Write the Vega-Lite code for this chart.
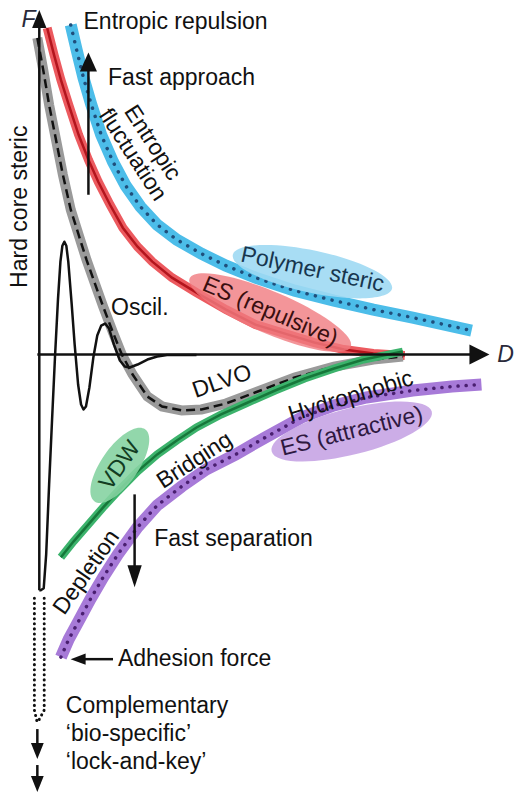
{
 "$schema": "https://vega.github.io/schema/vega-lite/v6.json",
 "width": 514, "height": 792,
 "autosize": {"type": "fit", "contains": "padding"},
 "padding": 0,
 "background": "white",
 "config": {"view": {"stroke": null}, "text": {"font": "Liberation Sans", "fontSize": 23, "color": "#111"}},
 "datasets": {
  "curves": [
   {"s":"blue","i":0,"x":3.2,"y":33.0},{"s":"blue","i":1,"x":3.8,"y":30.5},{"s":"blue","i":2,"x":4.5,"y":27.7},{"s":"blue","i":3,"x":5.3,"y":25.0},{"s":"blue","i":4,"x":6.3,"y":22.0},{"s":"blue","i":5,"x":7.5,"y":19.3},{"s":"blue","i":6,"x":8.8,"y":16.9},{"s":"blue","i":7,"x":10.3,"y":14.8},{"s":"blue","i":8,"x":12.0,"y":13.0},{"s":"blue","i":9,"x":14.0,"y":11.5},{"s":"blue","i":10,"x":16.5,"y":10.1},{"s":"blue","i":11,"x":19.0,"y":8.9},{"s":"blue","i":12,"x":22.0,"y":7.7},{"s":"blue","i":13,"x":26.0,"y":6.4},{"s":"blue","i":14,"x":30.0,"y":5.4},{"s":"blue","i":15,"x":34.0,"y":4.5},{"s":"blue","i":16,"x":38.0,"y":3.7},{"s":"blue","i":17,"x":44.0,"y":2.4},
   {"s":"red","i":0,"x":0.8,"y":32.7},{"s":"red","i":1,"x":1.5,"y":30.0},{"s":"red","i":2,"x":2.2,"y":27.5},{"s":"red","i":3,"x":3.0,"y":25.0},{"s":"red","i":4,"x":4.0,"y":22.0},{"s":"red","i":5,"x":5.0,"y":19.5},{"s":"red","i":6,"x":6.0,"y":17.3},{"s":"red","i":7,"x":7.2,"y":15.0},{"s":"red","i":8,"x":8.5,"y":12.7},{"s":"red","i":9,"x":10.0,"y":10.8},{"s":"red","i":10,"x":11.5,"y":9.3},{"s":"red","i":11,"x":13.5,"y":7.7},{"s":"red","i":12,"x":16.0,"y":6.2},{"s":"red","i":13,"x":19.0,"y":4.5},{"s":"red","i":14,"x":22.0,"y":3.0},{"s":"red","i":15,"x":25.0,"y":2.1},{"s":"red","i":16,"x":28.0,"y":1.2},{"s":"red","i":17,"x":31.0,"y":0.5},{"s":"red","i":18,"x":34.0,"y":0.1},{"s":"red","i":19,"x":37.2,"y":-0.1},
   {"s":"gray","i":0,"x":-0.2,"y":31.7},{"s":"gray","i":1,"x":0.4,"y":28.5},{"s":"gray","i":2,"x":1.0,"y":25.0},{"s":"gray","i":3,"x":1.7,"y":21.5},{"s":"gray","i":4,"x":2.4,"y":18.0},{"s":"gray","i":5,"x":3.2,"y":14.5},{"s":"gray","i":6,"x":4.0,"y":12.0},{"s":"gray","i":7,"x":4.8,"y":9.5},{"s":"gray","i":8,"x":5.7,"y":7.0},{"s":"gray","i":9,"x":6.5,"y":4.8},{"s":"gray","i":10,"x":7.5,"y":2.2},{"s":"gray","i":11,"x":8.4,"y":0.0},{"s":"gray","i":12,"x":9.5,"y":-2.0},{"s":"gray","i":13,"x":11.0,"y":-4.2},{"s":"gray","i":14,"x":12.5,"y":-5.2},{"s":"gray","i":15,"x":14.5,"y":-5.6},{"s":"gray","i":16,"x":16.5,"y":-5.5},{"s":"gray","i":17,"x":19.0,"y":-4.9},{"s":"gray","i":18,"x":21.7,"y":-3.9},{"s":"gray","i":19,"x":26.0,"y":-2.3},{"s":"gray","i":20,"x":30.0,"y":-1.2},{"s":"gray","i":21,"x":34.0,"y":-0.5},{"s":"gray","i":22,"x":37.0,"y":-0.2},
   {"s":"green","i":0,"x":2.2,"y":-20.3},{"s":"green","i":1,"x":3.5,"y":-18.7},{"s":"green","i":2,"x":5.0,"y":-17.0},{"s":"green","i":3,"x":6.5,"y":-15.3},{"s":"green","i":4,"x":8.0,"y":-13.7},{"s":"green","i":5,"x":10.0,"y":-11.7},{"s":"green","i":6,"x":12.0,"y":-10.0},{"s":"green","i":7,"x":14.0,"y":-8.6},{"s":"green","i":8,"x":16.0,"y":-7.3},{"s":"green","i":9,"x":18.5,"y":-6.0},{"s":"green","i":10,"x":21.0,"y":-4.9},{"s":"green","i":11,"x":24.0,"y":-3.6},{"s":"green","i":12,"x":27.0,"y":-2.4},{"s":"green","i":13,"x":30.0,"y":-1.4},{"s":"green","i":14,"x":33.0,"y":-0.5},{"s":"green","i":15,"x":37.0,"y":0.3},
   {"s":"purple","i":0,"x":2.2,"y":-30.3},{"s":"purple","i":1,"x":3.0,"y":-28.5},{"s":"purple","i":2,"x":4.0,"y":-26.7},{"s":"purple","i":3,"x":5.2,"y":-24.5},{"s":"purple","i":4,"x":6.5,"y":-22.3},{"s":"purple","i":5,"x":8.0,"y":-20.0},{"s":"purple","i":6,"x":10.0,"y":-17.3},{"s":"purple","i":7,"x":12.0,"y":-15.1},{"s":"purple","i":8,"x":14.5,"y":-13.2},{"s":"purple","i":9,"x":17.0,"y":-11.5},{"s":"purple","i":10,"x":20.0,"y":-10.0},{"s":"purple","i":11,"x":23.0,"y":-8.3},{"s":"purple","i":12,"x":26.7,"y":-6.3},{"s":"purple","i":13,"x":30.0,"y":-5.1},{"s":"purple","i":14,"x":33.3,"y":-4.3},{"s":"purple","i":15,"x":38.0,"y":-3.6},{"s":"purple","i":16,"x":42.0,"y":-3.2},{"s":"purple","i":17,"x":45.0,"y":-3.0}
  ],
  "black": [
   {"s":"axF","i":0,"x":0,"y":-23.6},{"s":"axF","i":1,"x":0,"y":32.7},
   {"s":"axD","i":0,"x":-0.2,"y":0},{"s":"axD","i":1,"x":44.0,"y":0},
   {"s":"arrUp","i":0,"x":5.0,"y":16.0},{"s":"arrUp","i":1,"x":5.0,"y":29.0},
   {"s":"arrDown","i":0,"x":9.7,"y":-14.0},{"s":"arrDown","i":1,"x":9.7,"y":-21.3},
   {"s":"arrLeft","i":0,"x":7.5,"y":-30.5},{"s":"arrLeft","i":1,"x":4.5,"y":-30.5},
   {"s":"b1","i":0,"x":-0.2,"y":-37.5},{"s":"b1","i":1,"x":-0.2,"y":-39.1},
   {"s":"b2","i":0,"x":-0.2,"y":-41.1},{"s":"b2","i":1,"x":-0.2,"y":-42.3},
   {"s":"osc","i":0,"x":0,"y":-23.6},{"s":"osc","i":1,"x":0.15,"y":-23.6},{"s":"osc","i":2,"x":0.45,"y":-23.4},{"s":"osc","i":3,"x":0.7,"y":-20.0},{"s":"osc","i":4,"x":1.0,"y":-13.0},{"s":"osc","i":5,"x":1.3,"y":-6.5},{"s":"osc","i":6,"x":1.6,"y":-0.2},{"s":"osc","i":7,"x":1.9,"y":5.5},{"s":"osc","i":8,"x":2.15,"y":9.3},{"s":"osc","i":9,"x":2.35,"y":10.9},{"s":"osc","i":10,"x":2.55,"y":11.3},{"s":"osc","i":11,"x":2.75,"y":10.9},{"s":"osc","i":12,"x":2.95,"y":9.3},{"s":"osc","i":13,"x":3.3,"y":5.0},{"s":"osc","i":14,"x":3.6,"y":1.0},{"s":"osc","i":15,"x":3.95,"y":-3.0},{"s":"osc","i":16,"x":4.25,"y":-5.0},{"s":"osc","i":17,"x":4.5,"y":-5.5},{"s":"osc","i":18,"x":4.75,"y":-5.2},{"s":"osc","i":19,"x":5.1,"y":-3.3},{"s":"osc","i":20,"x":5.5,"y":-0.3},{"s":"osc","i":21,"x":5.9,"y":1.9},{"s":"osc","i":22,"x":6.3,"y":2.9},{"s":"osc","i":23,"x":6.7,"y":3.1},{"s":"osc","i":24,"x":7.1,"y":2.6},{"s":"osc","i":25,"x":7.6,"y":1.0},{"s":"osc","i":26,"x":8.2,"y":-0.6},{"s":"osc","i":27,"x":8.7,"y":-1.2},{"s":"osc","i":28,"x":9.2,"y":-1.3},{"s":"osc","i":29,"x":10.0,"y":-1.0},{"s":"osc","i":30,"x":11.0,"y":-0.5},{"s":"osc","i":31,"x":12.0,"y":-0.2},{"s":"osc","i":32,"x":13.0,"y":-0.05},{"s":"osc","i":33,"x":16.0,"y":-0.05}
  ],
  "dotted": [
   {"s":"L","i":0,"x":-0.5,"y":-24.4},{"s":"L","i":1,"x":-0.5,"y":-35.6},{"s":"L","i":2,"x":-0.2,"y":-36.9},
   {"s":"R","i":0,"x":0.5,"y":-24.4},{"s":"R","i":1,"x":0.5,"y":-35.6},{"s":"R","i":2,"x":-0.2,"y":-36.9}
  ],
  "labels0": [
   {"t":"Entropic repulsion","x":4.5,"y":33.3},
   {"t":"Fast approach","x":7.0,"y":27.7},
   {"t":"Oscil.","x":7.3,"y":4.7},
   {"t":"Fast separation","x":11.7,"y":-18.5},
   {"t":"Adhesion force","x":8.0,"y":-30.5},
   {"t":"Complementary","x":2.7,"y":-35.2},
   {"t":"‘bio-specific’","x":2.7,"y":-38.0},
   {"t":"‘lock-and-key’","x":2.7,"y":-40.8}
  ]
 },
 "encoding": {
  "x": {"field": "x", "type": "quantitative", "scale": {"domain": [-4, 47.4], "nice": false, "zero": false}, "axis": null},
  "y": {"field": "y", "type": "quantitative", "scale": {"domain": [-43.7, 35.5], "nice": false, "zero": false}, "axis": null}
 },
 "layer": [
  {"data": {"name": "curves"}, "transform": [{"filter": "datum.s == 'blue'"}], "mark": {"type": "line", "stroke": "#4cbde9", "strokeWidth": 12, "strokeCap": "butt"}, "encoding": {"order": {"field": "i"}}},
  {"data": {"name": "curves"}, "transform": [{"filter": "datum.s == 'blue'"}], "mark": {"type": "line", "stroke": "#1f4f7c", "strokeWidth": 3.5, "strokeCap": "round", "strokeDash": [0.1, 8.5]}, "encoding": {"order": {"field": "i"}}},
  {"data": {"name": "curves"}, "transform": [{"filter": "datum.s == 'red'"}], "mark": {"type": "line", "stroke": "#ec5a5f", "strokeWidth": 9, "strokeCap": "butt"}, "encoding": {"order": {"field": "i"}}},
  {"data": {"name": "curves"}, "transform": [{"filter": "datum.s == 'red'"}], "mark": {"type": "line", "stroke": "#b3151d", "strokeWidth": 2.5}, "encoding": {"order": {"field": "i"}}},
  {"data": {"name": "curves"}, "transform": [{"filter": "datum.s == 'gray'"}], "mark": {"type": "line", "stroke": "#9a9a9a", "strokeWidth": 10, "strokeCap": "butt"}, "encoding": {"order": {"field": "i"}}},
  {"data": {"name": "curves"}, "transform": [{"filter": "datum.s == 'gray'"}], "mark": {"type": "line", "stroke": "#111", "strokeWidth": 2.5, "strokeDash": [9, 5]}, "encoding": {"order": {"field": "i"}}},
  {"data": {"name": "curves"}, "transform": [{"filter": "datum.s == 'green'"}], "mark": {"type": "line", "stroke": "#3cb36c", "strokeWidth": 8, "strokeCap": "butt"}, "encoding": {"order": {"field": "i"}}},
  {"data": {"name": "curves"}, "transform": [{"filter": "datum.s == 'green'"}], "mark": {"type": "line", "stroke": "#16773a", "strokeWidth": 2.5}, "encoding": {"order": {"field": "i"}}},
  {"data": {"name": "curves"}, "transform": [{"filter": "datum.s == 'purple'"}], "mark": {"type": "line", "stroke": "#a77ad8", "strokeWidth": 12, "strokeCap": "butt"}, "encoding": {"order": {"field": "i"}}},
  {"data": {"name": "curves"}, "transform": [{"filter": "datum.s == 'purple'"}], "mark": {"type": "line", "stroke": "#4a1f70", "strokeWidth": 3.5, "strokeCap": "round", "strokeDash": [0.1, 8]}, "encoding": {"order": {"field": "i"}}},
  {"data": {"name": "black"}, "mark": {"type": "line", "stroke": "#111", "strokeWidth": 2.5, "strokeJoin": "round"}, "encoding": {"order": {"field": "i"}, "detail": {"field": "s"}}},
  {"data": {"name": "dotted"}, "mark": {"type": "line", "stroke": "#111", "strokeWidth": 3, "strokeCap": "round", "strokeDash": [0.1, 5]}, "encoding": {"order": {"field": "i"}, "detail": {"field": "s"}}},
  {"data": {"values": [{"x": 0, "y": 33.6}]}, "mark": {"type": "point", "shape": "M 0 -1 L 0.8 1 L -0.8 1 Z", "size": 324, "filled": true, "color": "#111", "opacity": 1}},
  {"data": {"values": [{"x": 44.8, "y": 0}]}, "mark": {"type": "point", "shape": "M 0 -1 L 1 1 L -1 1 Z", "size": 400, "angle": 90, "filled": true, "color": "#111", "opacity": 1}},
  {"data": {"values": [{"x": 5.0, "y": 29.3}]}, "mark": {"type": "point", "shape": "M 0 -1 L 0.9 1 L -0.9 1 Z", "size": 361, "filled": true, "color": "#111", "opacity": 1}},
  {"data": {"values": [{"x": 9.7, "y": -22.2}]}, "mark": {"type": "point", "shape": "M 0 -1 L 0.65 1 L -0.65 1 Z", "size": 484, "angle": 180, "filled": true, "color": "#111", "opacity": 1}},
  {"data": {"values": [{"x": 3.95, "y": -30.5}]}, "mark": {"type": "point", "shape": "M 0 -1 L 0.75 1 L -0.75 1 Z", "size": 225, "angle": 270, "filled": true, "color": "#111", "opacity": 1}},
  {"data": {"values": [{"x": -0.2, "y": -39.7}]}, "mark": {"type": "point", "shape": "M 0 -1 L 0.8 1 L -0.8 1 Z", "size": 256, "angle": 180, "filled": true, "color": "#111", "opacity": 1}},
  {"data": {"values": [{"x": -0.2, "y": -43.0}]}, "mark": {"type": "point", "shape": "M 0 -1 L 0.8 1 L -0.8 1 Z", "size": 256, "angle": 180, "filled": true, "color": "#111", "opacity": 1}},
  {"data": {"values": [{"x": 27.8, "y": 8.3}]}, "mark": {"type": "point", "shape": "M -1 0 A 1 0.26 0 1 1 1 0 A 1 0.26 0 1 1 -1 0 Z", "size": 26500, "angle": 12, "filled": true, "color": "#9fd9f3", "opacity": 0.9}},
  {"data": {"values": [{"x": 23.5, "y": 4.2}]}, "mark": {"type": "point", "shape": "M -1 0 A 1 0.24 0 1 1 1 0 A 1 0.24 0 1 1 -1 0 Z", "size": 30625, "angle": 23, "filled": true, "color": "#f07b80", "opacity": 0.8}},
  {"data": {"values": [{"x": 31.8, "y": -7.7}]}, "mark": {"type": "point", "shape": "M -1 0 A 1 0.28 0 1 1 1 0 A 1 0.28 0 1 1 -1 0 Z", "size": 27225, "angle": -14, "filled": true, "color": "#c6a4e4", "opacity": 0.9}},
  {"data": {"values": [{"x": 8.2, "y": -11.1}]}, "mark": {"type": "point", "shape": "M -1 0 A 1 0.42 0 1 1 1 0 A 1 0.42 0 1 1 -1 0 Z", "size": 7744, "angle": -55, "filled": true, "color": "#86d3a2", "opacity": 0.9}},
  {"data": {"name": "labels0"}, "mark": {"type": "text", "align": "left", "baseline": "middle"}, "encoding": {"text": {"field": "t"}}},
  {"data": {"values": [{"t": "F", "x": -1.8, "y": 33.5}, {"t": "D", "x": 46.6, "y": 0}]}, "mark": {"type": "text", "align": "left", "baseline": "middle", "fontStyle": "italic", "color": "#2a2a3a"}, "encoding": {"text": {"field": "t"}}},
  {"data": {"values": [{"t": "Hard core steric", "x": -2.0, "y": 14.8}]}, "mark": {"type": "text", "align": "center", "baseline": "middle", "angle": -90}, "encoding": {"text": {"field": "t"}}},
  {"data": {"values": [{"t": "Entropic", "x": 11.5, "y": 21.2}, {"t": "fluctuation", "x": 9.5, "y": 20.0}]}, "mark": {"type": "text", "align": "center", "baseline": "middle", "angle": 57}, "encoding": {"text": {"field": "t"}}},
  {"data": {"values": [{"t": "Polymer steric", "x": 27.8, "y": 8.5}]}, "mark": {"type": "text", "align": "center", "baseline": "middle", "angle": 12, "color": "#17364f"}, "encoding": {"text": {"field": "t"}}},
  {"data": {"values": [{"t": "ES (repulsive)", "x": 23.5, "y": 4.3}]}, "mark": {"type": "text", "align": "center", "baseline": "middle", "angle": 23, "color": "#3a0f10"}, "encoding": {"text": {"field": "t"}}},
  {"data": {"values": [{"t": "ES (attractive)", "x": 31.8, "y": -7.7}]}, "mark": {"type": "text", "align": "center", "baseline": "middle", "angle": -14, "color": "#2e1840"}, "encoding": {"text": {"field": "t"}}},
  {"data": {"values": [{"t": "VDW", "x": 8.2, "y": -11.1}]}, "mark": {"type": "text", "align": "center", "baseline": "middle", "angle": -55, "color": "#123d22"}, "encoding": {"text": {"field": "t"}}},
  {"data": {"values": [{"t": "DLVO", "x": 18.6, "y": -2.7}]}, "mark": {"type": "text", "align": "center", "baseline": "middle", "angle": -19}, "encoding": {"text": {"field": "t"}}},
  {"data": {"values": [{"t": "Hydrophobic", "x": 31.7, "y": -4.2}]}, "mark": {"type": "text", "align": "center", "baseline": "middle", "angle": -17}, "encoding": {"text": {"field": "t"}}},
  {"data": {"values": [{"t": "Bridging", "x": 15.8, "y": -10.6}]}, "mark": {"type": "text", "align": "center", "baseline": "middle", "angle": -33}, "encoding": {"text": {"field": "t"}}},
  {"data": {"values": [{"t": "Depletion", "x": 4.8, "y": -21.8}]}, "mark": {"type": "text", "align": "center", "baseline": "middle", "angle": -55}, "encoding": {"text": {"field": "t"}}}
 ]
}
